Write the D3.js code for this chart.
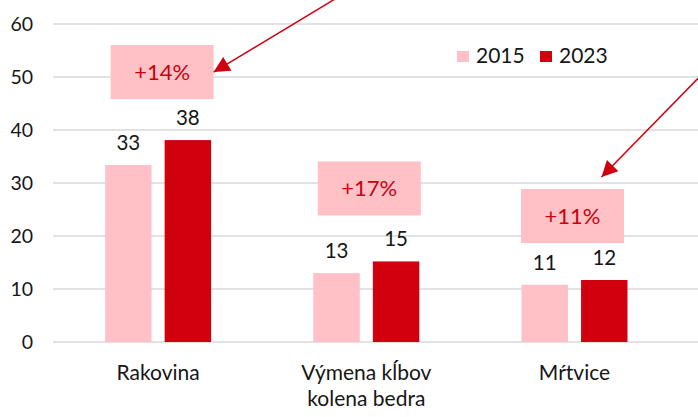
<!DOCTYPE html>
<meta charset="utf-8">
<style>
  body { margin: 0; background: #fff; }
  svg text { font-family: Lato, "Open Sans", sans-serif; fill: #161616; }
  .grid line { stroke: #d9d9d9; stroke-width: 1.6px; }
  .note text { fill: #c8000e; }
</style>
<body>
<svg width="698" height="417"></svg>
<script src="https://d3js.org/d3.v7.min.js"></script>
<script>

// data
var categories = [["Rakovina"], ["Výmena kĺbov", "kolena bedra"], ["Mŕtvice"]];
var years = ["2015", "2023"];
var values2015 = [33.4, 13.0, 10.8];
var values2023 = [38.1, 15.2, 11.7];
var changes = ["+14%", "+17%", "+11%"];
var yTicks = [0, 10, 20, 30, 40, 50, 60];

// layout stuff, not data
var colors = { "2015": "#ffc0c6", "2023": "#d0000f" };
var noteShift = [[4, 41], [3, 46], [-2, 37]];   // box nudges in px (x, above bar top)

const svg = d3.select("svg"),
      width = +svg.attr("width"),
      height = +svg.attr("height");

const x = d3.scaleBand()
  .domain(categories.map(d => d[0]))
  .range([54, 678.6]);

const xs = d3.scaleBand()
  .domain(years)
  .range([-53, 53])
  .paddingInner(0.22);

const y = d3.scaleLinear()
  .domain([0, 60])
  .range([342, 24]);

// gridlines + tick labels
const grid = svg.append("g").attr("class", "grid");
grid.selectAll("line")
  .data(yTicks)
  .enter().append("line")
  .attr("x1", 53).attr("x2", width)
  .attr("y1", d => y(d)).attr("y2", d => y(d));

svg.append("g")
  .selectAll("text")
  .data(yTicks)
  .enter().append("text")
  .attr("x", 33)
  .attr("y", d => y(d))
  .attr("dy", "0.36em")
  .attr("text-anchor", "end")
  .style("font-size", "19.5px")
  .text(d => d);

// bars
const rows = categories.map((c, i) => ({
  cat: c[0], lines: c,
  vals: [{ year: "2015", v: values2015[i] }, { year: "2023", v: values2023[i] }],
  change: changes[i], shift: noteShift[i]
}));

const group = svg.selectAll(".cat")
  .data(rows)
  .enter().append("g")
  .attr("class", "cat")
  .attr("transform", d => `translate(${x(d.cat) + x.bandwidth() / 2},0)`);

group.selectAll("rect")
  .data(d => d.vals)
  .enter().append("rect")
  .attr("x", d => xs(d.year))
  .attr("width", xs.bandwidth())
  .attr("y", d => y(d.v))
  .attr("height", d => y(0) - y(d.v))
  .attr("fill", d => colors[d.year]);

group.selectAll(".val")
  .data(d => d.vals)
  .enter().append("text")
  .attr("class", "val")
  .attr("x", d => xs(d.year) + xs.bandwidth() / 2)
  .attr("y", d => y(d.v) - 15)
  .attr("text-anchor", "middle")
  .style("font-size", "20.5px")
  .text(d => d3.format(".0f")(d.v));

// category labels
group.append("text")
  .attr("text-anchor", "middle")
  .style("font-size", "21px")
  .selectAll("tspan")
  .data(d => d.lines)
  .enter().append("tspan")
  .attr("x", 0)
  .attr("y", (d, i) => 380 + i * 25.5)
  .text(d => d);

// change boxes
const boxW = 103, boxH = 54;
const note = group.append("g")
  .attr("class", "note")
  .attr("transform", d => {
    const top = y(d3.max(d.vals, v => v.v)) - d.shift[1] - boxH;
    return `translate(${d.shift[0] - boxW / 2},${top})`;
  });

note.append("rect")
  .attr("width", boxW)
  .attr("height", boxH)
  .attr("fill", "#ffc0c6");

note.append("text")
  .attr("x", boxW / 2)
  .attr("y", boxH / 2)
  .attr("dy", "0.36em")
  .attr("text-anchor", "middle")
  .style("font-size", "22px")
  .text(d => d.change);

// arrows pointing at the first and last box
svg.append("defs").append("marker")
  .attr("id", "head")
  .attr("viewBox", "0 0 10 10")
  .attr("refX", 10).attr("refY", 5)
  .attr("markerUnits", "userSpaceOnUse")
  .attr("markerWidth", 18).attr("markerHeight", 16)
  .attr("orient", "auto")
  .append("path")
  .attr("d", "M0,0L10,5L0,10z")
  .attr("fill", "#d0000f");

function boxPos(i) {
  const d = rows[i];
  const cx = x(d.cat) + x.bandwidth() / 2 + d.shift[0];
  const top = y(d3.max(d.vals, v => v.v)) - d.shift[1] - boxH;
  return { cx: cx, top: top };
}

const b0 = boxPos(0), b2 = boxPos(2);
const arrows = [
  { x1: 345, y1: -7, x2: b0.cx + boxW / 2, y2: b0.top + boxH / 2 },
  { x1: 712, y1: 64, x2: b2.cx + 29, y2: b2.top - 12 }
];

svg.selectAll(".arrow")
  .data(arrows)
  .enter().append("line")
  .attr("class", "arrow")
  .attr("x1", d => d.x1).attr("y1", d => d.y1)
  .attr("x2", d => d.x2).attr("y2", d => d.y2)
  .attr("stroke", "#d0000f")
  .attr("stroke-width", 1.5)
  .attr("marker-end", "url(#head)");

// legend
const legend = svg.append("g")
  .selectAll("g")
  .data(years)
  .enter().append("g")
  .attr("transform", (d, i) => `translate(${457 + i * 83},0)`);

legend.append("rect")
  .attr("y", 51)
  .attr("width", 12).attr("height", 11)
  .attr("fill", d => colors[d]);

legend.append("text")
  .attr("x", 19)
  .attr("y", 62.5)
  .style("font-size", "21px")
  .text(d => d);

</script>
</body>
